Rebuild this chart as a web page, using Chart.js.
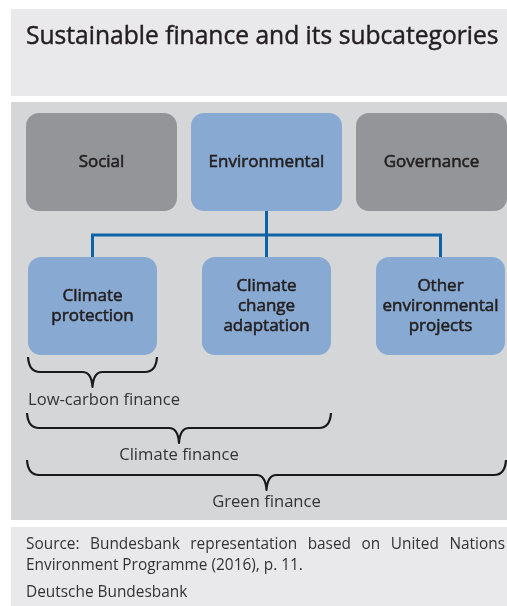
<!DOCTYPE html>
<html><head><meta charset="utf-8">
<script src="https://cdn.jsdelivr.net/npm/chart.js@4"></script>
<style>html,body{margin:0;padding:0;background:#fff}canvas{display:block}</style>
</head><body>
<div style="width:507px;height:606px"><canvas id="c" width="507" height="606"></canvas></div>
<script>
// ---- content (data) ----
const title = 'Sustainable finance and its subcategories';
const pillars = ['Social', 'Environmental', 'Governance'];
const expandedPillar = 1; // index of the pillar that is broken down
const subcategories = [['Climate', 'protection'], ['Climate', 'change', 'adaptation'], ['Other', 'environmental', 'projects']];
const financeGroups = ['Low-carbon finance', 'Climate finance', 'Green finance'];
const financeGroupCoverage = [1, 2, 3]; // number of subcategories each group spans
const sourceLines = ['Source: Bundesbank representation based on United Nations', 'Environment Programme (2016), p. 11.'];
const publisher = 'Deutsche Bundesbank';

// ---- layout & style ----
const W = 507, H = 606;
const L = {
  panelX0: 11, panelX1: 507,
  titlePanel: [9, 96], mainPanel: [102, 520], footPanel: [527, 606],
  topRow: { x0: 26, w: 151, step: 165, y0: 113, y1: 211 },
  subRow: { x0: 28, w: 129, step: 174, y0: 257, y1: 355 },
  junctionY: 235,
  brackets: [{ top: 357, label: 400, align: 'left' }, { top: 413, label: 455, align: 'center' }, { top: 460, label: 502, align: 'center' }],
  bracketDepth: 15
};
const C = {
  titleBg: '#e9e9eb', mainBg: '#d5d6d8', grey: '#939598', blue: '#88a9d1',
  line: '#0d63a5', text: '#231f20', light: '#333333'
};
const FONT = '"Open Sans", "DejaVu Sans", sans-serif';

const topCenter = i => L.topRow.x0 + i * L.topRow.step + L.topRow.w / 2;
const subCenter = i => L.subRow.x0 + i * L.subRow.step + L.subRow.w / 2;

// connector tree datasets (computed from layout)
const pc = topCenter(expandedPillar);
const treeDatasets = [
  { data: [{ x: subCenter(0), y: L.subRow.y0 }, { x: subCenter(0), y: L.junctionY }, { x: subCenter(subcategories.length - 1), y: L.junctionY }, { x: subCenter(subcategories.length - 1), y: L.subRow.y0 }] },
  { data: [{ x: pc, y: L.topRow.y1 }, { x: pc, y: L.subRow.y0 }] }
].map(d => Object.assign(d, { showLine: true, borderColor: C.line, borderWidth: 3, pointRadius: 0, borderJoinStyle: 'miter', borderCapStyle: 'butt', tension: 0, fill: false }));

function rrect(ctx, x0, y0, x1, y1, r) {
  ctx.beginPath();
  ctx.moveTo(x0 + r, y0);
  ctx.arcTo(x1, y0, x1, y1, r);
  ctx.arcTo(x1, y1, x0, y1, r);
  ctx.arcTo(x0, y1, x0, y0, r);
  ctx.arcTo(x0, y0, x1, y0, r);
  ctx.closePath();
}
function justify(ctx, text, x0, x1, y) {
  const words = text.split(' ');
  const tw = words.reduce((s, w) => s + ctx.measureText(w).width, 0);
  const gap = (x1 - x0 - tw) / (words.length - 1);
  let x = x0;
  ctx.textAlign = 'left';
  words.forEach(w => { ctx.fillText(w, x, y); x += ctx.measureText(w).width + gap; });
}
function boldish(ctx, t, x, y, w) {
  ctx.fillText(t, x, y);
  ctx.lineWidth = w; ctx.strokeStyle = ctx.fillStyle; ctx.strokeText(t, x, y);
}

const diagram = {
  id: 'diagram',
  beforeDatasetsDraw(chart) {
    const { ctx } = chart; const sx = chart.scales.x, sy = chart.scales.y;
    const X = v => sx.getPixelForValue(v), Y = v => sy.getPixelForValue(v);
    ctx.save();
    // panels
    ctx.fillStyle = C.titleBg; ctx.fillRect(X(L.panelX0), Y(L.titlePanel[0]), X(L.panelX1) - X(L.panelX0), Y(L.titlePanel[1]) - Y(L.titlePanel[0]));
    ctx.fillStyle = C.mainBg; ctx.fillRect(X(L.panelX0), Y(L.mainPanel[0]), X(L.panelX1) - X(L.panelX0), Y(L.mainPanel[1]) - Y(L.mainPanel[0]));
    ctx.fillStyle = C.titleBg; ctx.fillRect(X(L.panelX0), Y(L.footPanel[0]), X(L.panelX1) - X(L.panelX0), Y(L.footPanel[1]) - Y(L.footPanel[0]));
    // title
    ctx.fillStyle = C.text; ctx.textBaseline = 'middle'; ctx.textAlign = 'left';
    ctx.font = '24.6px ' + FONT;
    boldish(ctx, title, X(26), Y(37), 0.45);
    // pillars
    ctx.font = '17px ' + FONT; ctx.textAlign = 'center';
    pillars.forEach((p, i) => {
      const x0 = L.topRow.x0 + i * L.topRow.step;
      ctx.fillStyle = i === expandedPillar ? C.blue : C.grey;
      rrect(ctx, X(x0), Y(L.topRow.y0), X(x0 + L.topRow.w), Y(L.topRow.y1), 13); ctx.fill();
      ctx.fillStyle = C.text;
      boldish(ctx, p, X(x0 + L.topRow.w / 2), Y((L.topRow.y0 + L.topRow.y1) / 2), 0.55);
    });
    // subcategories
    subcategories.forEach((lines, i) => {
      const x0 = L.subRow.x0 + i * L.subRow.step;
      ctx.fillStyle = C.blue;
      rrect(ctx, X(x0), Y(L.subRow.y0), X(x0 + L.subRow.w), Y(L.subRow.y1), 13); ctx.fill();
      ctx.fillStyle = C.text;
      const cy = (L.subRow.y0 + L.subRow.y1) / 2, lh = 20;
      lines.forEach((t, k) => boldish(ctx, t, X(x0 + L.subRow.w / 2), Y(cy + (k - (lines.length - 1) / 2) * lh), 0.55));
    });
    // brackets
    financeGroups.forEach((g, i) => {
      const b = L.brackets[i];
      const x0 = L.subRow.x0 - (i ? 1 : 0), x1 = L.subRow.x0 + (financeGroupCoverage[i] - 1) * L.subRow.step + L.subRow.w + (i === 2 ? 1 : 0);
      const xc = (x0 + x1) / 2, yt = b.top, ym = b.top + L.bracketDepth, ya = b.top + 2 * L.bracketDepth;
      const r = 12, ra = 10;
      ctx.strokeStyle = '#1a1a1a'; ctx.lineWidth = 2.2; ctx.lineJoin = 'round';
      ctx.beginPath();
      ctx.moveTo(X(x0), Y(yt));
      ctx.quadraticCurveTo(X(x0 + 1), Y(ym), X(x0 + r), Y(ym));
      ctx.lineTo(X(xc - ra), Y(ym));
      ctx.quadraticCurveTo(X(xc - 1), Y(ym), X(xc), Y(ya));
      ctx.quadraticCurveTo(X(xc + 1), Y(ym), X(xc + ra), Y(ym));
      ctx.lineTo(X(x1 - r), Y(ym));
      ctx.quadraticCurveTo(X(x1 - 1), Y(ym), X(x1), Y(yt));
      ctx.stroke();
      ctx.fillStyle = C.light; ctx.font = '16.6px ' + FONT;
      ctx.textAlign = b.align;
      ctx.fillText(g, X(b.align === 'left' ? x0 : xc), Y(b.label));
    });
    // footer
    ctx.fillStyle = C.light; ctx.font = '15.4px ' + FONT;
    justify(ctx, sourceLines[0], X(26), X(505), Y(545));
    ctx.textAlign = 'left';
    ctx.fillText(sourceLines[1], X(26), Y(566));
    ctx.fillText(publisher, X(26), Y(593));
    ctx.restore();
  }
};

new Chart(document.getElementById('c'), {
  type: 'scatter',
  data: { datasets: treeDatasets },
  options: {
    responsive: false, animation: false, devicePixelRatio: 1,
    layout: { padding: 0 },
    plugins: { legend: { display: false }, tooltip: { enabled: false }, title: { display: false } },
    events: [],
    scales: {
      x: { type: 'linear', min: 0, max: W, display: false },
      y: { type: 'linear', min: 0, max: H, reverse: true, display: false }
    }
  },
  plugins: [diagram]
});
</script>
</body></html>
